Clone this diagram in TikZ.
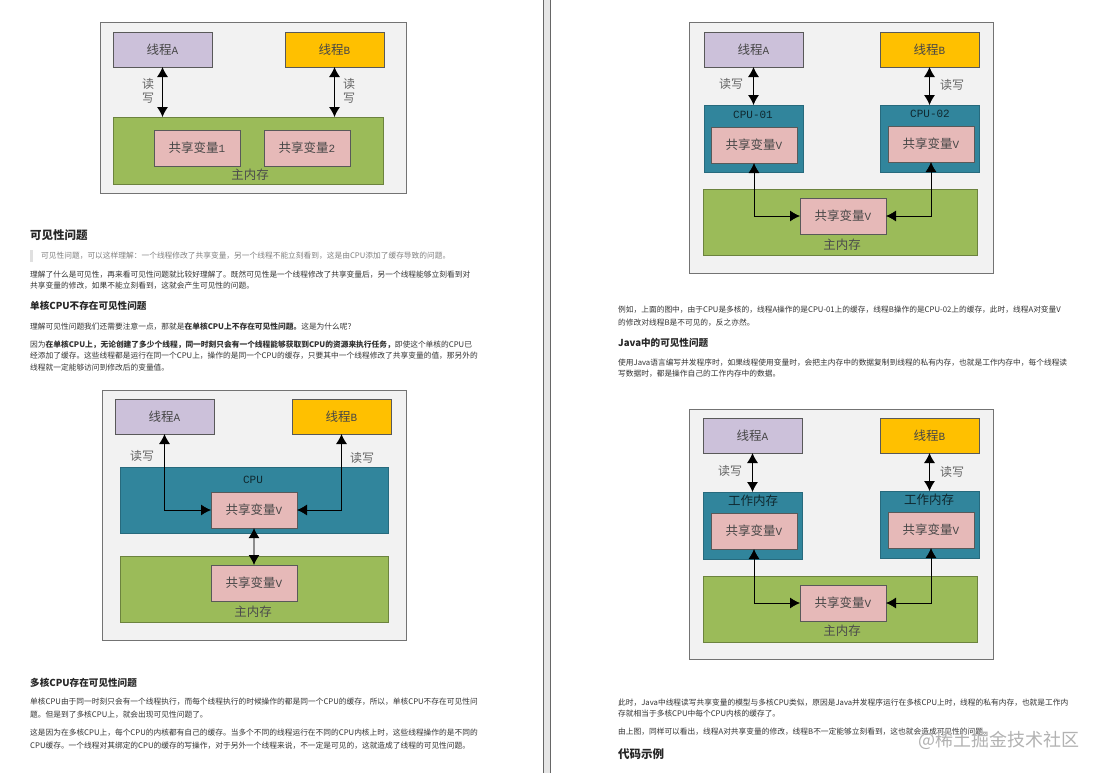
\documentclass[tikz,border=0pt]{standalone}
\usepackage{fontspec}
\usepackage{tikz}
\usetikzlibrary{arrows.meta}
\setmainfont{Noto Sans CJK SC}
\newfontfamily\monofont{Liberation Mono}
\newcommand{\lat}[1]{{\fontsize{11}{11}\selectfont\monofont #1}}
\newcommand{\dou}{\char"FF0C\relax}
\newcommand{\mao}{\char"FF1A\relax}
\newcommand{\wen}{\char"FF1F\relax}
\definecolor{panelfill}{HTML}{F2F2F2}
\definecolor{threadfill}{HTML}{CCC1DA}
\definecolor{goldfill}{HTML}{FFC000}
\definecolor{cpufill}{HTML}{31859C}
\definecolor{memfill}{HTML}{9BBB59}
\definecolor{varfill}{HTML}{E6B9B8}
\tikzset{
	panel/.style = {draw=black!55, line width=0.9pt, fill=panelfill, anchor=north west, inner sep=0, outer sep=0},
	box/.style = {draw=black!65, line width=0.7pt, anchor=north west, inner sep=0, outer sep=0, text=black!72, font=\fontsize{12.5}{12.5}\selectfont},
	threada/.style = {box, fill=threadfill, minimum width=99pt, minimum height=35pt},
	threadb/.style = {box, fill=goldfill, minimum width=99pt, minimum height=35pt},
	cachebox/.style = {box, draw=cpufill!80!black, fill=cpufill, minimum width=99pt, minimum height=67pt},
	membox/.style = {box, draw=memfill!70!black, fill=memfill},
	varbox/.style = {box, fill=varfill, minimum width=86pt, minimum height=36pt},
	caption/.style = {font=\fontsize{12.5}{12.5}\selectfont, text=black!70, inner sep=0},
	rwlabel/.style = {font=\fontsize{12}{14}\selectfont, text=black!60, inner sep=0, align=center},
	rw/.style = {<->, >={Latex[length=10pt,width=11pt]}, line width=0.8pt, black},
	rwgray/.style = {<->, >={Latex[length=10pt,width=11pt,black]}, line width=1.2pt, black!45},
	bodyline/.style = {anchor=west, inner sep=0, text=black!80, font=\fontsize{7.72}{9}\selectfont},
	quoteline/.style = {bodyline, text=black!50},
	headtwo/.style = {anchor=west, inner sep=0, text=black!85, font=\fontsize{11.5}{13}\selectfont\bfseries},
	headthree/.style = {anchor=west, inner sep=0, text=black!85, font=\fontsize{9.6}{11}\selectfont\bfseries},
	watermark/.style = {anchor=west, inner sep=0, text=black!30, font=\fontsize{18}{18}\selectfont},
}
\begin{document}
\begin{tikzpicture}[x=1pt,y=-1pt]
	\useasboundingbox (0,0) rectangle (1097,772);
	\fill[white] (0,0) rectangle (1097,772);
	\draw[black!60, line width=1pt, fill=black!10] (543.5,-2) rectangle (550.5,774);

	\node[headtwo] (hVisible) at (30,235) {可见性问题};
	\fill[black!12] (30,250) rectangle (32.5,262);
	\node[quoteline] (quote) at (41,256) {可见性问题\dou 可以这样理解\mao 一个线程修改了共享变量\dou 另一个线程不能立刻看到\dou 这是由CPU添加了缓存导致的问题。};
	\node[bodyline] (pa) at (30,275) {理解了什么是可见性\dou 再来看可见性问题就比较好理解了。既然可见性是一个线程修改了共享变量后\dou 另一个线程能够立刻看到对};
	\node[bodyline] (pb) at (30,286) {共享变量的修改\dou 如果不能立刻看到\dou 这就会产生可见性的问题。};
	\node[headthree] (hSingle) at (30,306) {单核CPU不存在可见性问题};
	\node[bodyline] (pc) at (30,327) {理解可见性问题我们还需要注意一点\dou 那就是\textbf{在单核CPU上不存在可见性问题。}这是为什么呢\wen};
	\node[bodyline] (pd) at (30,345) {因为\textbf{在单核CPU上\dou 无论创建了多少个线程\dou 同一时刻只会有一个线程能够获取到CPU的资源来执行任务\dou}即使这个单核的CPU已};
	\node[bodyline] (pe) at (30,356) {经添加了缓存。这些线程都是运行在同一个CPU上\dou 操作的是同一个CPU的缓存\dou 只要其中一个线程修改了共享变量的值\dou 那另外的};
	\node[bodyline] (pf) at (30,368) {线程就一定能够访问到修改后的变量值。};
	\node[headthree] (hMulti) at (30,683) {多核CPU存在可见性问题};
	\node[bodyline] (pg) at (30,702) {单核CPU由于同一时刻只会有一个线程执行\dou 而每个线程执行的时候操作的都是同一个CPU的缓存\dou 所以\dou 单核CPU不存在可见性问};
	\node[bodyline] (ph) at (30,715) {题。但是到了多核CPU上\dou 就会出现可见性问题了。};
	\node[bodyline] (pi) at (30,733) {这是因为在多核CPU上\dou 每个CPU的内核都有自己的缓存。当多个不同的线程运行在不同的CPU内核上时\dou 这些线程操作的是不同的};
	\node[bodyline] (pj) at (30,746) {CPU缓存。一个线程对其绑定的CPU的缓存的写操作\dou 对于另外一个线程来说\dou 不一定是可见的\dou 这就造成了线程的可见性问题。};

	\node[bodyline] (qa) at (618,310) {例如\dou 上面的图中\dou 由于CPU是多核的\dou 线程A操作的是CPU-01上的缓存\dou 线程B操作的是CPU-02上的缓存\dou 此时\dou 线程A对变量V};
	\node[bodyline] (qb) at (618,323) {的修改对线程B是不可见的\dou 反之亦然。};
	\node[headthree] (hJava) at (618,343) {Java中的可见性问题};
	\node[bodyline] (qc) at (618,363) {使用Java语言编写并发程序时\dou 如果线程使用变量时\dou 会把主内存中的数据复制到线程的私有内存\dou 也就是工作内存中\dou 每个线程读};
	\node[bodyline] (qd) at (618,374) {写数据时\dou 都是操作自己的工作内存中的数据。};
	\node[bodyline] (qe) at (618,703) {此时\dou Java中线程读写共享变量的模型与多核CPU类似\dou 原因是Java并发程序运行在多核CPU上时\dou 线程的私有内存\dou 也就是工作内};
	\node[bodyline] (qf) at (618,714) {存就相当于多核CPU中每个CPU内核的缓存了。};
	\node[bodyline] (qg) at (618,732) {由上图\dou 同样可以看出\dou 线程A对共享变量的修改\dou 线程B不一定能够立刻看到\dou 这也就会造成可见性的问题。};
	\node[headtwo] (hCode) at (618,754) {代码示例};
	\node[watermark] (mark) at (918,740) {@稀土掘金技术社区};

	\node[panel, minimum width=306pt, minimum height=171pt] (panelOne) at (100,22) {};
	\node[threada] (threadAOne) at (113,32) {线程\lat{A}};
	\node[threadb] (threadBOne) at (285,32) {线程\lat{B}};
	\node[membox, minimum width=270pt, minimum height=67pt] (memOne) at (113,117) {};
	\node[varbox] (varOne) at (154,130) {共享变量\lat{1}};
	\node[varbox] (varTwo) at (264,130) {共享变量\lat{2}};
	\node[caption] (capOne) at (250,175) {主内存};
	\node[rwlabel] (rwAOne) at (148,91) {读\\写};
	\node[rwlabel] (rwBOne) at (349,91) {读\\写};
	\draw[rw] (threadAOne.south) -- (threadAOne.south |- memOne.north);
	\draw[rw] (threadBOne.south) -- (threadBOne.south |- memOne.north);

	\node[panel, minimum width=304pt, minimum height=250pt] (panelSingle) at (102,390) {};
	\node[threada] (threadASingle) at (115,399) {线程\lat{A}};
	\node[threadb] (threadBSingle) at (292,399) {线程\lat{B}};
	\node[cachebox, minimum width=268pt, minimum height=66pt] (cpuSingle) at (120,467) {};
	\node[caption, text=black!70!cpufill] (capCpu) at (253,480) {\lat{CPU}};
	\node[varbox] (varCpu) at (211,492) {共享变量\lat{V}};
	\node[membox, minimum width=268pt, minimum height=66pt] (memSingle) at (120,556) {};
	\node[varbox] (varMem) at (211,565) {共享变量\lat{V}};
	\node[caption] (capSingle) at (253,612) {主内存};
	\node[rwlabel] (rwASingle) at (142,456) {读写};
	\node[rwlabel] (rwBSingle) at (362,458) {读写};
	\draw[rw] (threadASingle.south) |- (varCpu.west);
	\draw[rw] (threadBSingle.south) |- (varCpu.east);
	\draw[rwgray] (varCpu.south) -- (varMem.north);

	\node[panel, minimum width=304pt, minimum height=251pt] (panelMulti) at (689,22) {};
	\node[threada] (threadAMulti) at (704,32) {线程\lat{A}};
	\node[threadb] (threadBMulti) at (880,32) {线程\lat{B}};
	\node[cachebox] (cpuA) at (704,105) {};
	\node[caption, text=black!70!cpufill] (capCpuA) at (753,115) {\lat{CPU-01}};
	\node[varbox] (varCpuA) at (711,127) {共享变量\lat{V}};
	\node[cachebox] (cpuB) at (880,105) {};
	\node[caption, text=black!70!cpufill] (capCpuB) at (930,114) {\lat{CPU-02}};
	\node[varbox] (varCpuB) at (888,126) {共享变量\lat{V}};
	\node[membox, minimum width=274pt, minimum height=66pt] (memMulti) at (703,189) {};
	\node[varbox] (varMulti) at (800,198) {共享变量\lat{V}};
	\node[caption] (capMulti) at (842,245) {主内存};
	\node[rwlabel] (rwAMulti) at (731,84) {读写};
	\node[rwlabel] (rwBMulti) at (952,85) {读写};
	\draw[rw] (threadAMulti.south) -- (cpuA.north);
	\draw[rw] (threadBMulti.south) -- (cpuB.north);
	\draw[rw] (varCpuA.south) |- (varMulti.west);
	\draw[rw] (varCpuB.south) |- (varMulti.east);

	\node[panel, minimum width=304pt, minimum height=250pt] (panelJava) at (689,409) {};
	\node[threada] (threadAJava) at (703,418) {线程\lat{A}};
	\node[threadb] (threadBJava) at (880,418) {线程\lat{B}};
	\node[cachebox] (workA) at (703,492) {};
	\node[caption, text=black!70!cpufill] (capWorkA) at (753,501) {工作内存};
	\node[varbox] (varWorkA) at (711,513) {共享变量\lat{V}};
	\node[cachebox] (workB) at (880,491) {};
	\node[caption, text=black!70!cpufill] (capWorkB) at (929,500) {工作内存};
	\node[varbox] (varWorkB) at (888,512) {共享变量\lat{V}};
	\node[membox, minimum width=274pt, minimum height=66pt] (memJava) at (703,576) {};
	\node[varbox] (varJava) at (800,585) {共享变量\lat{V}};
	\node[caption] (capJava) at (842,631) {主内存};
	\node[rwlabel] (rwAJava) at (730,471) {读写};
	\node[rwlabel] (rwBJava) at (952,472) {读写};
	\draw[rw] (threadAJava.south) -- (workA.north);
	\draw[rw] (threadBJava.south) -- (workB.north);
	\draw[rw] (varWorkA.south) |- (varJava.west);
	\draw[rw] (varWorkB.south) |- (varJava.east);
\end{tikzpicture}
\end{document}
